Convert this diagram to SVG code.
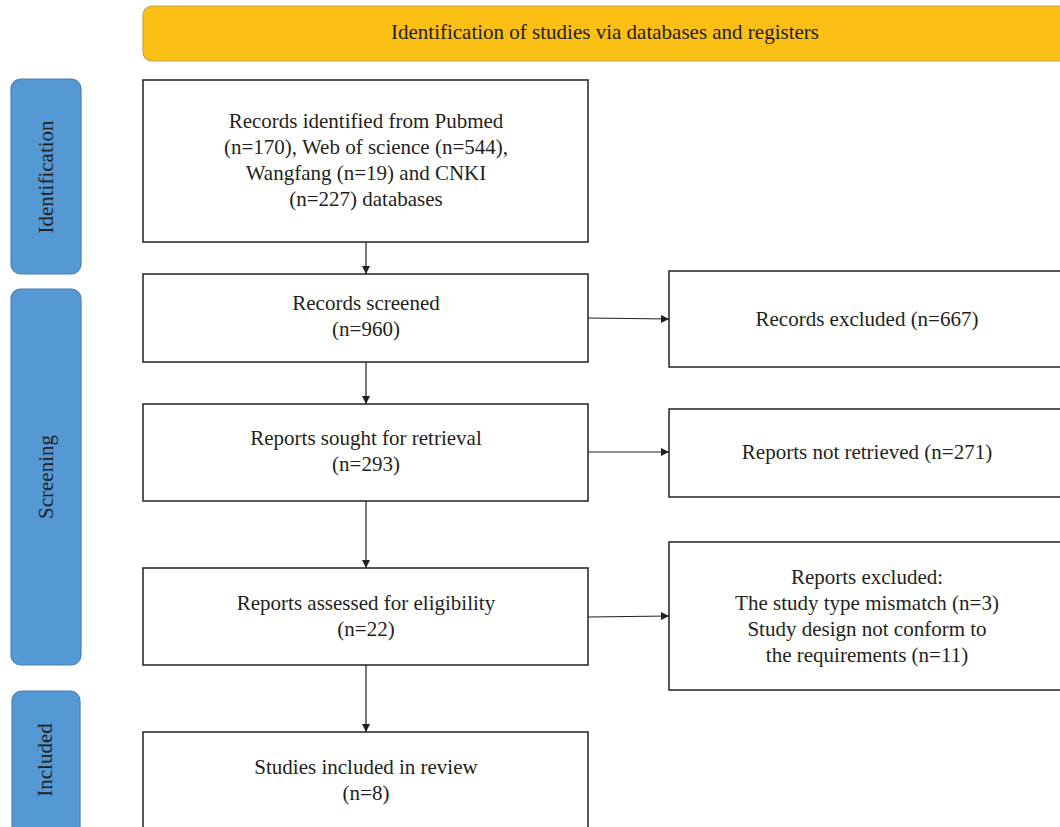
<svg xmlns="http://www.w3.org/2000/svg" width="1060" height="827" viewBox="0 0 1060 827">
<defs>
<style>
text{font-family:"Liberation Serif","DejaVu Serif",serif;font-size:21px;fill:#231f20;text-anchor:middle;dominant-baseline:central}
.box{fill:#fff;stroke:#231f20;stroke-width:1.5}
.side{fill:#5599d4;stroke:#4a7fb0;stroke-width:1.2}
.ban{fill:#fcc015;stroke:#c9a04a;stroke-width:1.2}
.con{stroke:#231f20;stroke-width:1.2;fill:none;marker-end:url(#ah)}
</style>
<marker id="ah" viewBox="0 0 10 10" refX="10" refY="5" markerWidth="8" markerHeight="8" markerUnits="userSpaceOnUse" orient="auto">
<path d="M0,0L10,5L0,10z" fill="#231f20"/>
</marker>
</defs>
<rect width="1060" height="827" fill="#fff"/>
<g id="banner"><rect class="ban" x="143" y="6" width="940" height="55" rx="9"/><text x="605" y="32">Identification of studies via databases and registers</text></g>
<g id="side-identification"><rect class="side" x="11" y="79" width="70" height="195" rx="10"/><text transform="translate(46,177) rotate(-90)">Identification</text></g>
<g id="side-screening"><rect class="side" x="11" y="289" width="70" height="376" rx="10"/><text transform="translate(46,477) rotate(-90)">Screening</text></g>
<g id="side-included"><rect class="side" x="12" y="691" width="68" height="160" rx="10"/><text transform="translate(45,760) rotate(-90)">Included</text></g>
<g id="n1"><rect class="box" x="143" y="80" width="445" height="162"/><text x="366" y="121">Records identified from Pubmed</text><text x="366" y="147">(n=170), Web of science (n=544),</text><text x="366" y="173">Wangfang (n=19) and CNKI</text><text x="366" y="199">(n=227) databases</text></g>
<g id="n2"><rect class="box" x="143" y="274" width="445" height="88"/><text x="366" y="303">Records screened</text><text x="366" y="329">(n=960)</text></g>
<g id="n3"><rect class="box" x="143" y="404" width="445" height="97"/><text x="366" y="438">Reports sought for retrieval</text><text x="366" y="464">(n=293)</text></g>
<g id="n4"><rect class="box" x="143" y="568" width="445" height="97"/><text x="366" y="603">Reports assessed for eligibility</text><text x="366" y="629">(n=22)</text></g>
<g id="n5"><rect class="box" x="143" y="732" width="445" height="120"/><text x="366" y="767">Studies included in review</text><text x="366" y="793">(n=8)</text></g>
<g id="r1"><rect class="box" x="669" y="271" width="420" height="96"/><text x="867" y="319">Records excluded (n=667)</text></g>
<g id="r2"><rect class="box" x="669" y="409" width="420" height="88"/><text x="867" y="452">Reports not retrieved (n=271)</text></g>
<g id="r3"><rect class="box" x="669" y="542" width="420" height="148"/><text x="867" y="577">Reports excluded:</text><text x="867" y="603">The study type mismatch (n=3)</text><text x="867" y="629">Study design not conform to</text><text x="867" y="655">the requirements (n=11)</text></g>
<g id="connectors">
<path class="con" d="M366,242V274"/>
<path class="con" d="M366,362V404"/>
<path class="con" d="M366,501V568"/>
<path class="con" d="M366,665V732"/>
<path class="con" d="M588,318L669,319"/>
<path class="con" d="M588,452H669"/>
<path class="con" d="M588,617L669,616"/>
</g>
</svg>
